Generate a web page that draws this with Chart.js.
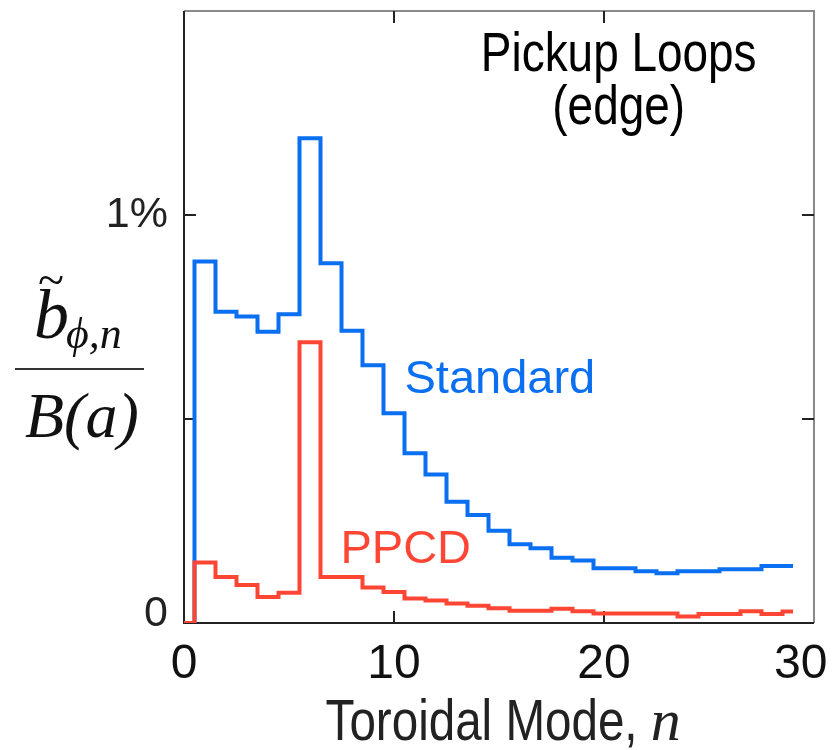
<!DOCTYPE html>
<html><head><meta charset="utf-8">
<script src="https://cdn.jsdelivr.net/npm/chart.js@4.4.1/dist/chart.umd.min.js"></script>
<style>html,body{margin:0;padding:0;background:#fff}</style>
</head><body>
<canvas id="c" width="834" height="750"></canvas>
<script>
// ---- data ----
const modeN = [0,1,2,3,4,5,6,7,8,9,10,11,12,13,14,15,16,17,18,19,20,21,22,23,24,25,26,27,28,29];
const standardAmp = [0,0.886,0.763,0.751,0.714,0.757,1.188,0.882,0.716,0.632,0.514,0.416,0.364,0.297,0.265,0.226,0.193,0.183,0.160,0.153,0.134,0.134,0.127,0.122,0.127,0.127,0.132,0.132,0.140,0.140];
const ppcdAmp = [0,0.148,0.113,0.093,0.064,0.074,0.688,0.113,0.113,0.087,0.076,0.060,0.055,0.048,0.042,0.036,0.030,0.030,0.035,0.029,0.023,0.023,0.023,0.023,0.016,0.022,0.022,0.029,0.022,0.028];
const xTickValues = [0,10,20,30];
const xTickText = ['0','10','20','30\u2007'];
const yTickValues = [0,0.5,1,1.5];
const yTickText = [['0',''],'','1%',''];
const seriesNames = ['Standard','PPCD'];

const BLUE = '#0a6ff0';
const RED = '#ff4634';
const SANS = '"Liberation Sans",Arial,Helvetica,sans-serif';
const SERIF = '"Liberation Serif","Times New Roman",serif';
const SQUEEZE = 0.82;

function squeezedText(ctx, text, x, y, align) {
  const w = ctx.measureText(text).width * SQUEEZE;
  let left = x;
  if (align === 'center') left = x - w / 2;
  else if (align === 'right') left = x - w;
  ctx.save();
  ctx.textAlign = 'left';
  ctx.translate(left, y);
  ctx.scale(SQUEEZE, 1);
  ctx.fillText(text, 0, 0);
  ctx.restore();
  return w;
}

const framePlugin = {
  id: 'frame',
  beforeDatasetsDraw(chart) {
    const {ctx, chartArea: a, scales: {x, y}} = chart;
    ctx.save();
    ctx.lineWidth = 2;
    ctx.strokeStyle = '#8a8a8a';
    ctx.beginPath();
    ctx.moveTo(a.left, a.top); ctx.lineTo(a.right, a.top); ctx.lineTo(a.right, a.bottom);
    ctx.stroke();
    ctx.strokeStyle = '#222';
    ctx.beginPath();
    ctx.moveTo(a.left, a.top); ctx.lineTo(a.left, a.bottom); ctx.lineTo(a.right, a.bottom);
    ctx.stroke();
    const L = 12;
    xTickValues.slice(1, -1).forEach(v => {
      const px = x.getPixelForValue(v);
      ctx.beginPath();
      ctx.moveTo(px, a.bottom); ctx.lineTo(px, a.bottom - L);
      ctx.moveTo(px, a.top); ctx.lineTo(px, a.top + L);
      ctx.stroke();
    });
    yTickValues.slice(1, -1).forEach(v => {
      const py = y.getPixelForValue(v);
      ctx.beginPath();
      ctx.moveTo(a.left, py); ctx.lineTo(a.left + L, py);
      ctx.moveTo(a.right, py); ctx.lineTo(a.right - L, py);
      ctx.stroke();
    });
    ctx.restore();
  }
};

const textPlugin = {
  id: 'texts',
  afterDraw(chart) {
    const {ctx, scales: {x, y}} = chart;
    ctx.save();
    ctx.textBaseline = 'alphabetic';
    // series labels
    ctx.textAlign = 'left';
    ctx.font = '47px ' + SANS;
    ctx.fillStyle = BLUE;
    ctx.fillText(seriesNames[0], x.getPixelForValue(10.5), y.getPixelForValue(0.563));
    ctx.fillStyle = RED;
    ctx.fillText(seriesNames[1], x.getPixelForValue(7.45), y.getPixelForValue(0.147));
    // panel title
    ctx.fillStyle = '#000';
    ctx.font = '56px ' + SANS;
    const cx = x.getPixelForValue(20.7);
    squeezedText(ctx, 'Pickup Loops', cx, 71, 'center');
    squeezedText(ctx, '(edge)', cx, 124, 'center');
    // x axis title
    const t1 = 'Toroidal Mode, ';
    ctx.font = '58px ' + SANS;
    const w1 = ctx.measureText(t1).width * SQUEEZE;
    ctx.font = 'italic 60px ' + SERIF;
    const w2 = ctx.measureText('n').width;
    const sx = x.getPixelForValue(15.2) - (w1 + w2) / 2;
    ctx.fillStyle = '#222';
    ctx.font = '58px ' + SANS;
    squeezedText(ctx, t1, sx, 740, 'left');
    ctx.font = 'italic 60px ' + SERIF;
    ctx.textAlign = 'left';
    ctx.fillText('n', sx + w1, 740);
    // y axis title (fraction)
    ctx.fillStyle = '#111';
    ctx.font = 'italic 70px ' + SERIF;
    ctx.fillText('b', 34, 338);
    ctx.font = '48px ' + SERIF;
    ctx.fillText('~', 38, 296);
    ctx.font = 'italic 44px ' + SERIF;
    ctx.fillText('\u03D5,n', 66, 348);
    ctx.strokeStyle = '#333';
    ctx.lineWidth = 2;
    ctx.beginPath(); ctx.moveTo(15, 369); ctx.lineTo(144, 369); ctx.stroke();
    ctx.font = 'italic 64px ' + SERIF;
    ctx.fillText('B(a)', 25, 437);
    ctx.restore();
  }
};

const toPts = arr => modeN.map((n, i) => ({x: n, y: arr[i]}));

new Chart(document.getElementById('c'), {
  type: 'line',
  data: {
    datasets: [
      {label: seriesNames[1], data: toPts(ppcdAmp), borderColor: RED, borderWidth: 4, stepped: 'middle',
       pointRadius: 0, fill: false, borderJoinStyle: 'miter', borderCapStyle: 'butt', order: 0},
      {label: seriesNames[0], data: toPts(standardAmp), borderColor: BLUE, borderWidth: 4, stepped: 'middle',
       pointRadius: 0, fill: false, borderJoinStyle: 'miter', borderCapStyle: 'butt', order: 1}
    ]
  },
  options: {
    responsive: false, animation: false, devicePixelRatio: 1,
    layout: {padding: {top: 11, right: 20, left: 0, bottom: 0}, autoPadding: false},
    plugins: {legend: {display: false}, tooltip: {enabled: false}},
    scales: {
      x: {
        type: 'linear', min: 0, max: 30,
        grid: {display: false, drawTicks: false}, border: {display: false},
        afterBuildTicks(s) { s.ticks = xTickValues.map(v => ({value: v})); },
        ticks: {padding: 13, font: {family: SANS, size: 48}, color: '#111', maxRotation: 0, autoSkip: false,
          callback: v => { const i = xTickValues.indexOf(v); return i >= 0 ? xTickText[i] : ''; }},
        afterFit(s) { s.height = 127; s.paddingLeft = 0; s.paddingRight = 0; }
      },
      y: {
        type: 'linear', min: 0, max: 1.5,
        grid: {display: false, drawTicks: false}, border: {display: false},
        afterBuildTicks(s) { s.ticks = yTickValues.map(v => ({value: v})); },
        ticks: {padding: 16, font: {family: SANS, size: 43, lineHeight: 0.42}, color: '#222',
          callback: v => { const i = yTickValues.indexOf(v); return i >= 0 ? yTickText[i] : ''; }},
        afterFit(s) { s.width = 184; s.paddingTop = 0; s.paddingBottom = 0; }
      }
    }
  },
  plugins: [framePlugin, textPlugin]
});
</script>
</body></html>
